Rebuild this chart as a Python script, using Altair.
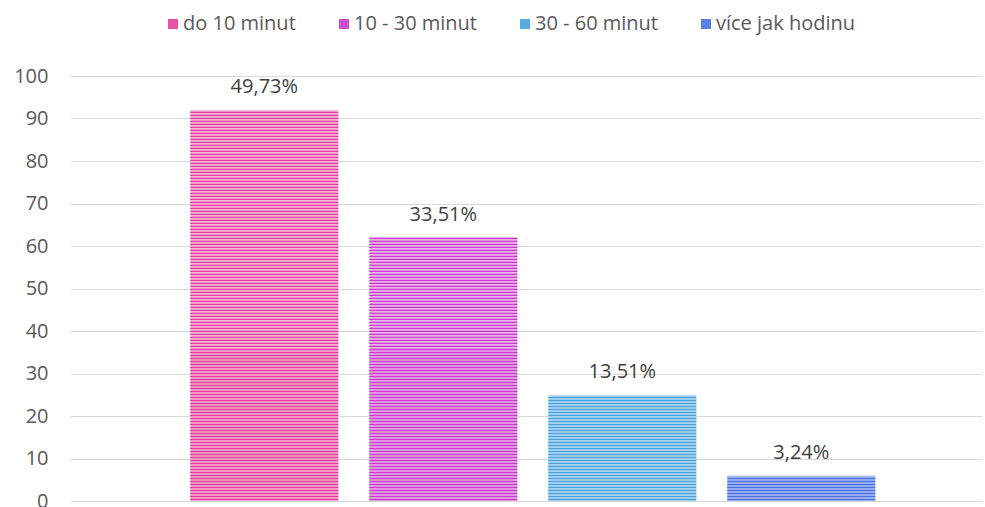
import altair as alt
import pandas as pd
import numpy as np

# Travel-time answers (counts of respondents)
categories = ["do 10 minut", "10 - 30 minut", "30 - 60 minut", "více jak hodinu"]
counts = [92, 62, 25, 6]

# Fill colours: light base and darker stripe for each series
base_colors = ["#f7b6d8", "#ebb1ec", "#bcdcf3", "#adc1f4"]
stripe_colors = ["#e6399b", "#c53cc8", "#4a9fda", "#4a70e3"]
legend_colors = ["#ea52a6", "#cc4ece", "#5aaae0", "#5a7fe8"]

total = sum(counts)
df = pd.DataFrame({
    "kategorie": categories,
    "pocet": counts,
    "nula": [0] * len(categories),
    "popisek": [f"{c / total * 100:.2f}%".replace(".", ",") for c in counts],
})

# Horizontal hatch lines inside each bar, one every ~0.7 units of height
step = 0.706
rows = []
for cat, c in zip(categories, counts):
    for y in np.arange(0.2, c - 0.2, step):
        rows.append({"kategorie": cat, "y0": y, "y1": y + 0.32})
stripes = pd.DataFrame(rows)

FONT = "Open Sans"
FS = 20
x_enc = alt.X(
    "kategorie:N",
    sort=categories,
    axis=None,
    scale=alt.Scale(paddingInner=0.173, paddingOuter=0.634, align=0.53),
)

bars = alt.Chart(df).mark_bar().encode(
    x=x_enc,
    y=alt.Y(
        "pocet:Q",
        scale=alt.Scale(domain=[0, 100]),
        axis=alt.Axis(
            values=list(range(0, 101, 10)),
            title=None,
            domain=False,
            ticks=False,
            labelPadding=22,
            labelFontSize=FS,
            labelColor="#595959",
            labelFont=FONT,
            gridColor="#d9d9d9",
            gridWidth=1,
        ),
    ),
    fill=alt.Fill(
        "kategorie:N",
        sort=categories,
        scale=alt.Scale(domain=categories, range=base_colors),
        legend=None,
    ),
)

hatch = alt.Chart(stripes).mark_bar().encode(
    x=x_enc,
    y="y0:Q",
    y2="y1:Q",
    fill=alt.Fill(
        "kategorie:N",
        sort=categories,
        scale=alt.Scale(domain=categories, range=stripe_colors),
        legend=None,
    ),
)

# Zero-height bars that only carry the legend
legend_layer = alt.Chart(df).mark_bar(strokeWidth=0).encode(
    x=x_enc,
    y="nula:Q",
    y2="nula:Q",
    color=alt.Color(
        "kategorie:N",
        sort=categories,
        scale=alt.Scale(domain=categories, range=legend_colors),
        legend=alt.Legend(
            title=None,
            orient="none",
            direction="horizontal",
            legendX=93,
            legendY=-62,
            symbolType="square",
            symbolSize=100,
            symbolStrokeWidth=0,
            labelFontSize=FS,
            labelFont=FONT,
            labelColor="#595959",
            labelOffset=0,
            columnPadding=38,
        ),
    ),
)

labels = alt.Chart(df).mark_text(
    baseline="bottom", dy=-13, fontSize=FS, font=FONT, color="#404040"
).encode(
    x=x_enc,
    y="pocet:Q",
    text="popisek:N",
)

chart = (
    alt.layer(bars, hatch, legend_layer, labels)
    .resolve_scale(fill="independent")
    .properties(
        width=912,
        height=425,
        autosize=alt.AutoSizeParams(type="none"),
        padding={"left": 70, "top": 76, "right": 3, "bottom": 6},
    )
    .configure_view(stroke=None)
)

chart.save("out.html", embed_options={"renderer": "svg", "actions": False})
